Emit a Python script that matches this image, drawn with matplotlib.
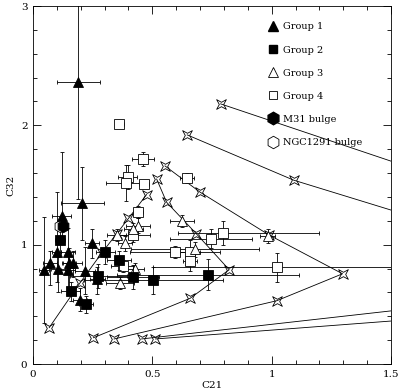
import matplotlib
matplotlib.use("Agg")
import matplotlib.pyplot as plt
from matplotlib.path import Path
from matplotlib.lines import Line2D
import numpy as np

# ---------------- data ----------------
g1_x = [0.047, 0.071, 0.099, 0.106, 0.120, 0.148, 0.148, 0.152, 0.166, 0.197, 0.207, 0.218, 0.246, 0.270, 0.190]
g1_y = [0.79, 0.85, 0.94, 0.80, 1.24, 0.94, 0.79, 0.85, 0.85, 0.54, 1.35, 0.78, 1.01, 0.71, 2.36]
g1_xerr = [0.02, 0.03, 0.02, 0.03, 0.04, 0.03, 0.03, 0.03, 0.04, 0.03, 0.09, 0.04, 0.03, 0.03, 0.09]
g1_yerr_lo = [0.45, 0.19, 0.25, 0.20, 0.20, 0.15, 0.20, 0.23, 0.12, 0.10, 0.31, 0.19, 0.12, 0.12, 0.98]
g1_yerr_hi = [0.44, 0.10, 0.50, 0.10, 0.54, 0.20, 0.15, 0.12, 0.10, 0.10, 0.30, 0.20, 0.12, 0.10, 0.80]

g2_x = [0.113, 0.159, 0.222, 0.274, 0.302, 0.362, 0.420, 0.504, 0.734]
g2_y = [1.04, 0.61, 0.50, 0.74, 0.94, 0.87, 0.73, 0.70, 0.75]
g2_xerr = [0.02, 0.04, 0.03, 0.12, 0.04, 0.05, 0.11, 0.29, 0.38]
g2_yerr = [0.10, 0.08, 0.07, 0.10, 0.10, 0.08, 0.10, 0.11, 0.13]

g3_x = [0.350, 0.385, 0.427, 0.364, 0.441, 0.420, 0.623, 0.679, 0.983]
g3_y = [1.08, 1.01, 0.80, 0.68, 1.16, 1.13, 1.20, 0.96, 1.07]
g3_xerr = [0.04, 0.03, 0.04, 0.06, 0.05, 0.04, 0.05, 0.27, 0.03]
g3_yerr = [0.05, 0.06, 0.05, 0.05, 0.06, 0.05, 0.05, 0.06, 0.06]

g4_x = [0.362, 0.460, 0.397, 0.390, 0.465, 0.646, 0.441, 0.420, 0.595, 0.658, 0.658, 0.378, 0.746, 0.797, 1.023]
g4_y = [2.01, 1.72, 1.57, 1.52, 1.51, 1.56, 1.27, 1.08, 0.935, 0.94, 0.86, 0.82, 1.05, 1.10, 0.81]
g4_xerr_lo = [0.02, 0.045, 0.04, 0.085, 0.02, 0.03, 0.02, 0.07, 0.19, 0.04, 0.03, 0.05, 0.17, 0.19, 0.52]
g4_xerr_hi = [0.02, 0.045, 0.04, 0.085, 0.02, 0.03, 0.02, 0.07, 0.19, 0.04, 0.03, 0.05, 0.17, 0.40, 0.52]
g4_yerr = [0.03, 0.06, 0.10, 0.15, 0.03, 0.04, 0.05, 0.06, 0.05, 0.10, 0.08, 0.05, 0.08, 0.10, 0.12]

m31_x, m31_y = [0.127], [1.16]
ngc_x, ngc_y = [0.113], [1.16]

# model tracks (vertices); star markers on the first n vertices of each
trackA_x = [0.068, 0.197, 0.288, 0.350, 0.400, 0.476]
trackA_y = [0.305, 0.68, 0.93, 1.09, 1.22, 1.42]
trackB_x = [0.253, 0.658, 0.822, 0.685, 0.560, 0.518]
trackB_y = [0.22, 0.55, 0.79, 1.09, 1.355, 1.55]
trackD_x = [0.340, 1.021, 1.297, 0.990, 0.700, 0.553]
trackD_y = [0.21, 0.53, 0.756, 1.08, 1.44, 1.66]
trackE_x = [0.455, 1.5]
trackE_y = [0.21, 0.445]
trackF_x = [0.513, 1.5]
trackF_y = [0.21, 0.36]
trackG_x = [0.786, 1.5]
trackG_y = [2.18, 1.70]
trackH_x = [0.646, 1.093, 1.5]
trackH_y = [1.92, 1.54, 1.29]

legend_labels = ["Group 1", "Group 2", "Group 3", "Group 4", "M31 bulge", "NGC1291 bulge"]

# ---------------- style ----------------
plt.rcParams['font.family'] = ['DejaVu Serif']
LW = 0.6

star = Path([(1, 1), (0, 0.45), (-1, 1), (-0.45, 0), (-1, -1), (0, -0.45),
             (1, -1), (0.45, 0), (1, 1)],
            [Path.MOVETO] + [Path.LINETO] * 7 + [Path.CLOSEPOLY])

fig = plt.figure(figsize=(4.0, 3.89), dpi=100)
ax = fig.add_axes([33/400, 25/389, 358/400, 358/389])

def track(xs, ys, n_marked):
    ax.plot(xs, ys, color='black', lw=LW, zorder=2)
    ax.plot(xs[:n_marked], ys[:n_marked], linestyle='none', marker=star,
            markersize=7, markerfacecolor='none', markeredgecolor='black',
            markeredgewidth=LW, zorder=3)

track(trackA_x, trackA_y, len(trackA_x))
track(trackB_x, trackB_y, len(trackB_x))
track(trackD_x, trackD_y, len(trackD_x))
track(trackE_x, trackE_y, 1)
track(trackF_x, trackF_y, 1)
track(trackG_x, trackG_y, 1)
track(trackH_x, trackH_y, 2)

ekw = dict(ecolor='black', elinewidth=LW, capsize=1.2, capthick=LW, linestyle='none')

ax.errorbar(g4_x, g4_y, xerr=[g4_xerr_lo, g4_xerr_hi], yerr=g4_yerr, marker='s', markersize=6.5,
            markerfacecolor='white', markeredgecolor='black', markeredgewidth=LW, zorder=4, **ekw)
ax.errorbar(g3_x, g3_y, xerr=g3_xerr, yerr=g3_yerr, marker='^', markersize=7,
            markerfacecolor='white', markeredgecolor='black', markeredgewidth=LW, zorder=4, **ekw)
ax.errorbar(g1_x, g1_y, xerr=g1_xerr, yerr=[g1_yerr_lo, g1_yerr_hi], marker='^', markersize=7.5,
            markerfacecolor='black', markeredgecolor='black', markeredgewidth=LW, zorder=5, **ekw)
ax.errorbar(g2_x, g2_y, xerr=g2_xerr, yerr=g2_yerr, marker='s', markersize=7,
            markerfacecolor='black', markeredgecolor='black', markeredgewidth=LW, zorder=5, **ekw)
ax.plot(ngc_x, ngc_y, linestyle='none', marker='h', markersize=9, markerfacecolor='white',
        markeredgecolor='black', markeredgewidth=LW, zorder=5)
ax.plot(m31_x, m31_y, linestyle='none', marker='h', markersize=9, markerfacecolor='black',
        markeredgecolor='black', markeredgewidth=LW, zorder=6)

ax.set_xlim(0, 1.5)
ax.set_ylim(0, 3)
ax.set_xticks([0, 0.5, 1, 1.5])
ax.set_xticklabels(["0", "0.5", "1", "1.5"])
ax.set_yticks([0, 1, 2, 3])
ax.set_yticklabels(["0", "1", "2", "3"])
ax.set_xticks(np.arange(0, 1.51, 0.1), minor=True)
ax.set_yticks(np.arange(0, 3.01, 0.2), minor=True)
ax.tick_params(which='both', direction='in', top=True, right=True, width=LW, labelsize=7.5, pad=4)
ax.tick_params(which='major', length=6)
ax.tick_params(which='minor', length=3)
for s in ax.spines.values():
    s.set_linewidth(LW)

ax.set_xlabel("C21", fontsize=7.5, labelpad=2)
ax.set_ylabel("C32", fontsize=7.5, labelpad=4)

handles = [
    Line2D([], [], linestyle='none', marker='^', markersize=7, markerfacecolor='black', markeredgecolor='black'),
    Line2D([], [], linestyle='none', marker='s', markersize=6, markerfacecolor='black', markeredgecolor='black'),
    Line2D([], [], linestyle='none', marker='^', markersize=7, markerfacecolor='white', markeredgecolor='black', markeredgewidth=LW),
    Line2D([], [], linestyle='none', marker='s', markersize=6, markerfacecolor='white', markeredgecolor='black', markeredgewidth=LW),
    Line2D([], [], linestyle='none', marker='h', markersize=9, markerfacecolor='black', markeredgecolor='black'),
    Line2D([], [], linestyle='none', marker='h', markersize=9, markerfacecolor='white', markeredgecolor='black', markeredgewidth=LW),
]
leg = ax.legend(handles, legend_labels, loc='upper left', bbox_to_anchor=(0.645, 0.965),
                frameon=False, fontsize=7, labelspacing=1.45, handlelength=1.0,
                handletextpad=0.6, borderaxespad=0)
leg.set_zorder(1)

fig.savefig("out.png", dpi=100)
